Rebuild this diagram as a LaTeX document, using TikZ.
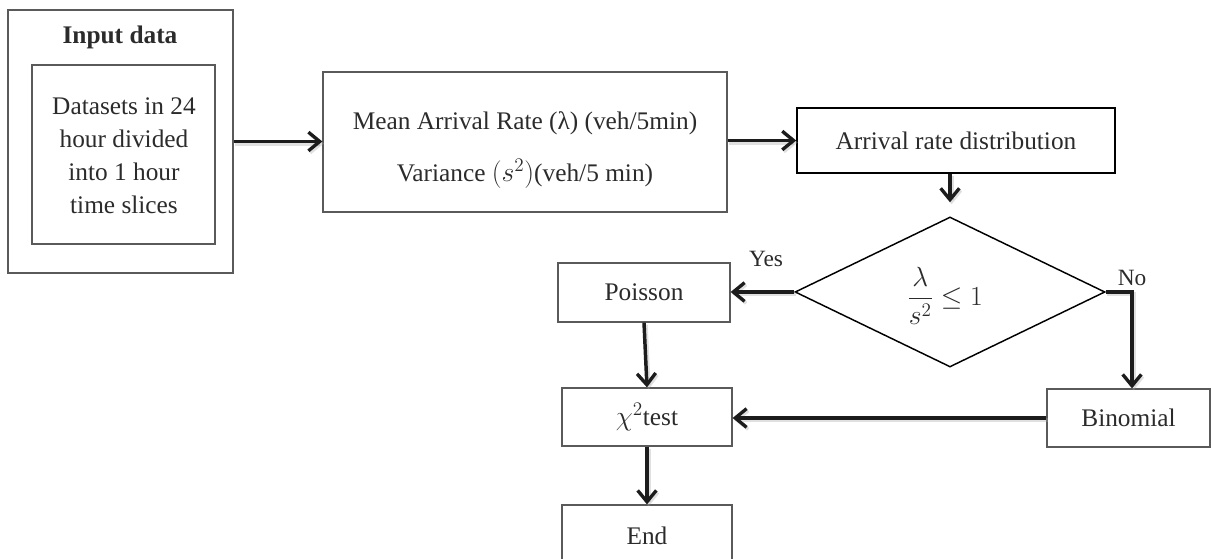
\documentclass[tikz,border=0pt]{standalone}
\usepackage{fontspec}
\setmainfont{Liberation Serif}
\usetikzlibrary{arrows.meta,shapes.geometric,calc}

\definecolor{boxline}{HTML}{5A5A5A}
\definecolor{ink}{HTML}{2B2B2B}
\definecolor{arrowink}{HTML}{1C1C1C}

\tikzset{
  box/.style={draw=boxline, line width=0.95pt, inner sep=0pt, text=ink},
  txt/.style={inner sep=0pt, text=ink, align=center},
  flow/.style={draw=arrowink, line width=2.6pt,
    -{Straight Barb[length=8.5pt,width=14pt,line width=2.5pt]},
    preaction={draw=black!35, opacity=0.35, line width=3.2pt,
      transform canvas={shift={(1.2pt,-1.5pt)}}}},
}

\begin{document}
\begin{tikzpicture}[x=0.75pt, y=-0.75pt, font=\fontsize{19}{24.75}\selectfont]
  \useasboundingbox (0,0) rectangle (1211,559);

  % input data block
  \node[box, minimum width={225*0.75pt}, minimum height={263*0.75pt}] (outer) at (120.5,141.5) {};
  \node[txt, font=\fontsize{19}{24.75}\selectfont\bfseries] (title) at (120,37) {Input data};
  \node[box, minimum width={183*0.75pt}, minimum height={179*0.75pt}] (inner) at (123.5,154.5) {};
  \node[txt] (slices) at (124,156) {Datasets in 24\\hour divided\\into 1 hour\\time slices};

  % statistics block
  \node[box, minimum width={404*0.75pt}, minimum height={140*0.75pt}] (mean) at (525,142) {};
  \node[txt] (meantext) at (525,150)
    {Mean Arrival Rate (λ) (veh/5min)\\[14pt]Variance {\fontsize{21}{24}\selectfont$(s^{2})$}(veh/5 min)};

  % distribution step
  \node[box, draw=black, line width=1.2pt, minimum width={318*0.75pt}, minimum height={65*0.75pt}] (arr) at (956,140.5) {Arrival rate distribution};

  % decision
  \node[draw=black, line width=1.1pt, shape=diamond, inner sep=0pt, aspect=2.07,
        minimum width={310*0.75pt}, minimum height={150*0.75pt}] (dia) at (950,292) {};
  \node[txt, font=\fontsize{21}{24}\selectfont] (cond) at (945,296) {$\displaystyle\frac{\lambda}{s^{2}}\leq 1$};

  % outcomes
  \node[box, minimum width={172*0.75pt}, minimum height={59*0.75pt}] (poisson) at (644,292.5) {Poisson};
  \node[box, minimum width={170*0.75pt}, minimum height={58*0.75pt}] (chi) at (647,417) {{\fontsize{22}{24}\selectfont$\chi^{2}$}test};
  \node[box, minimum width={163*0.75pt}, minimum height={58*0.75pt}] (binom) at (1128.5,418) {Binomial};
  \node[box, minimum width={170*0.75pt}, minimum height={62*0.75pt}] (end) at (647,536) {End};

  % branch labels
  \node[txt, font=\fontsize{17.5}{19}\selectfont] (yes) at (766,259) {Yes};
  \node[txt, font=\fontsize{17.5}{19}\selectfont] (no) at (1132,278) {No};

  % connectors
  \coordinate (noturn) at (1132,292);
  \draw[flow] (outer.east) -- (mean.west |- outer.east);
  \draw[flow] (mean.east |- arr.west) -- (arr.west);
  \draw[flow, shorten >=10.5pt] (dia.north |- arr.south) -- (dia.north);
  \draw[flow] (dia.west) -- (poisson.east |- dia.west);
  \draw[flow] (poisson.south) -- (chi.north);
  \draw[flow] (dia.east) -- (noturn) -- (noturn |- binom.north);
  \draw[flow] (binom.west) -- (chi.east |- binom.west);
  \draw[flow] (chi.south) -- (end.north);
\end{tikzpicture}
\end{document}
